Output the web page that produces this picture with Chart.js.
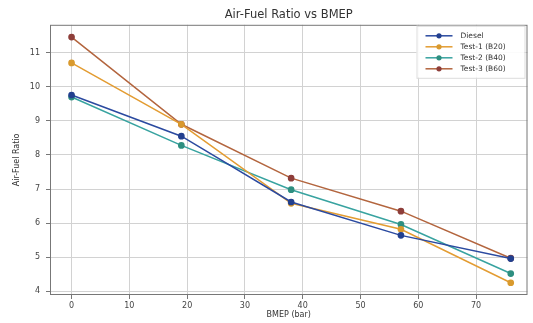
<!DOCTYPE html>
<html>
<head>
<meta charset="utf-8">
<script src="https://cdn.jsdelivr.net/npm/chart.js@4"></script>
<style>
  html, body { margin: 0; padding: 0; background: #fff; }
  #wrap { width: 533px; height: 323px; }
</style>
</head>
<body>
<div id="wrap"><canvas id="myChart" width="533" height="323"></canvas></div>
<script>
const bmep = [0, 19, 38, 57, 76];
const diesel = [9.76, 8.55, 6.62, 5.64, 4.96];
const test1 = [10.7, 8.9, 6.58, 5.82, 4.25];
const test2 = [9.7, 8.28, 6.98, 5.96, 4.52];
const test3 = [11.46, 8.9, 7.32, 6.35, 4.97];
const seriesNames = ["Diesel", "Test-1 (B20)", "Test-2 (B40)", "Test-3 (B60)"];
const xTicks = [0, 10, 20, 30, 40, 50, 60, 70];
const yTicks = [4, 5, 6, 7, 8, 9, 10, 11];

const colors = ["#2b4aa0", "#e39c32", "#38a3a0", "#b3653e"];
const markerColors = ["#23408f", "#d99a2e", "#2e8f80", "#8e3e3a"];

function pts(ys) {
    return bmep.map((x, i) => ({ x: x, y: ys[i] }));
}

const fontFam = "'DejaVu Sans', sans-serif";

const frame = {
    id: "frame",
    afterDatasetsDraw(chart) {
        const a = chart.chartArea;
        const ctx = chart.ctx;
        ctx.save();
        ctx.strokeStyle = "#777";
        ctx.lineWidth = 1;
        ctx.strokeRect(a.left + 0.5, a.top + 0.5, a.right - a.left - 1, a.bottom - a.top - 1);

        // legend box in upper right
        const w = 108, h = 52;
        const lx = a.right - w - 3, ly = a.top + 1;
        ctx.fillStyle = "rgba(255,255,255,0.9)";
        ctx.strokeStyle = "#ddd";
        ctx.fillRect(lx, ly, w, h);
        ctx.strokeRect(lx + 0.5, ly + 0.5, w, h);
        ctx.font = "7.5px " + fontFam;
        ctx.textBaseline = "middle";
        chart.data.datasets.forEach((ds, i) => {
            const y = ly + 10 + i * 11;
            ctx.strokeStyle = ds.borderColor;
            ctx.lineWidth = 1.5;
            ctx.beginPath();
            ctx.moveTo(lx + 9, y);
            ctx.lineTo(lx + 36, y);
            ctx.stroke();
            ctx.fillStyle = ds.pointBackgroundColor;
            ctx.beginPath();
            ctx.arc(lx + 22.5, y, 2.6, 0, Math.PI * 2);
            ctx.fill();
            ctx.fillStyle = "#333";
            ctx.fillText(ds.label, lx + 44, y);
        });
        ctx.restore();
    }
};

new Chart("myChart", {
    type: "line",
    data: {
        datasets: [diesel, test1, test2, test3].map((ys, i) => ({
            label: seriesNames[i],
            data: pts(ys),
            borderColor: colors[i],
            backgroundColor: colors[i],
            pointBackgroundColor: markerColors[i],
            pointBorderColor: markerColors[i],
            pointRadius: 2.6,
            borderWidth: 1.5,
            fill: false,
            tension: 0
        }))
    },
    options: {
        responsive: false,
        animation: false,
        layout: { padding: { left: 0, right: 2, top: 0, bottom: 0 } },
        plugins: {
            legend: { display: false },
            tooltip: { enabled: false },
            title: {
                display: true,
                text: "Air-Fuel Ratio vs BMEP",
                fullSize: false,
                color: "#333",
                font: { family: fontFam, size: 11.5, weight: "normal" },
                padding: { top: 8, bottom: 3 }
            }
        },
        scales: {
            x: {
                type: "linear",
                min: -3.73,
                max: 78.9,
                afterBuildTicks: s => { s.ticks = xTicks.map(v => ({ value: v })); },
                afterFit: s => { s.height = 28; },
                grid: { color: "#d2d2d2", tickLength: 4, tickColor: "#777" },
                border: { display: false },
                ticks: { color: "#444", padding: 2, maxRotation: 0, font: { family: fontFam, size: 8 } },
                title: {
                    display: true,
                    text: "BMEP (bar)",
                    color: "#333",
                    font: { family: fontFam, size: 8 },
                    padding: { top: 0, bottom: 3 }
                }
            },
            y: {
                min: 3.89,
                max: 11.82,
                afterBuildTicks: s => { s.ticks = yTicks.map(v => ({ value: v })); },
                afterFit: s => { s.width = 50; },
                grid: { color: "#d2d2d2", tickLength: 4, tickColor: "#777" },
                border: { display: false },
                ticks: { color: "#444", padding: 6, font: { family: fontFam, size: 8 } },
                title: {
                    display: true,
                    text: "Air-Fuel Ratio",
                    color: "#333",
                    font: { family: fontFam, size: 8 },
                    padding: { top: 12, bottom: 0 }
                }
            }
        }
    },
    plugins: [frame]
});
</script>
</body>
</html>
